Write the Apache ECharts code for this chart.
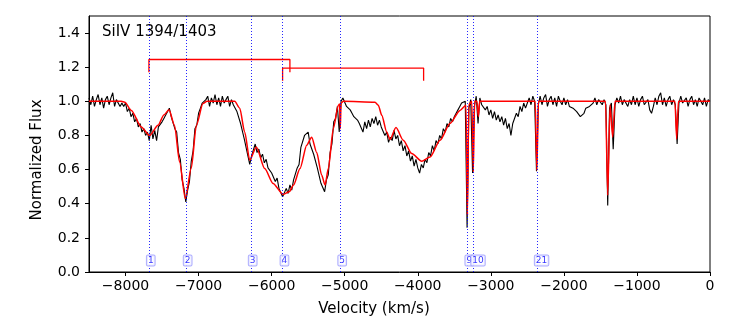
<!DOCTYPE html>
<html>
<head>
<meta charset="utf-8">
<script src="https://cdn.jsdelivr.net/npm/echarts@6/dist/echarts.min.js"></script>
<style>
  html, body { margin: 0; padding: 0; background: #fff; }
  #chart { width: 747px; height: 320px; }
</style>
</head>
<body>
<div id="chart"></div>
<script>
// observed spectrum, sampled every 25 km/s from -8500 to 0
var obsStart = -8500;
var obsStep = 25;
var obsFlux = [
  1.02, 0.98, 1.03, 0.97, 1.01, 1.04, 0.98, 1.02, 0.96, 1.01, 1.03, 0.98, 1.02, 1.05, 0.97, 1.01, 1.02, 0.97, 0.99, 0.97,
  0.99, 0.94, 0.96, 0.91, 0.93, 0.88, 0.90, 0.85, 0.87, 0.82, 0.84, 0.80, 0.82, 0.77, 0.86, 0.78, 0.83, 0.77, 0.85, 0.84,
  0.88, 0.90, 0.92, 0.93, 0.96, 0.91, 0.92, 0.84, 0.82, 0.70, 0.66, 0.54, 0.49, 0.41, 0.48, 0.53, 0.65, 0.71, 0.84, 0.86,
  0.93, 0.96, 0.99, 1.00, 1.01, 1.03, 0.97, 1.02, 0.99, 1.04, 0.98, 1.02, 0.97, 1.03, 0.99, 1.01, 1.03, 0.97, 1.01, 0.98,
  0.99, 0.94, 0.94, 0.87, 0.86, 0.78, 0.77, 0.68, 0.63, 0.68, 0.69, 0.75, 0.70, 0.72, 0.67, 0.69, 0.64, 0.66, 0.61, 0.62,
  0.58, 0.59, 0.53, 0.55, 0.49, 0.50, 0.44, 0.43, 0.49, 0.46, 0.51, 0.48, 0.54, 0.53, 0.61, 0.63, 0.73, 0.73, 0.80, 0.79,
  0.82, 0.75, 0.76, 0.69, 0.69, 0.61, 0.60, 0.52, 0.52, 0.47, 0.54, 0.57, 0.70, 0.75, 0.88, 0.90, 0.97, 0.82, 1.00, 1.02,
  1.01, 0.97, 0.97, 0.95, 0.93, 0.91, 0.90, 0.89, 0.87, 0.86, 0.82, 0.88, 0.84, 0.89, 0.85, 0.90, 0.87, 0.91, 0.86, 0.89,
  0.85, 0.86, 0.80, 0.82, 0.76, 0.79, 0.77, 0.83, 0.78, 0.80, 0.74, 0.77, 0.71, 0.74, 0.68, 0.71, 0.65, 0.68, 0.62, 0.66,
  0.61, 0.58, 0.63, 0.61, 0.66, 0.64, 0.70, 0.68, 0.74, 0.71, 0.77, 0.75, 0.80, 0.78, 0.84, 0.82, 0.87, 0.85, 0.90, 0.88,
  0.91, 0.93, 0.95, 0.97, 0.99, 0.99, 1.00, 0.26, 0.96, 1.01, 0.58, 0.97, 1.03, 0.87, 1.02, 0.98, 0.99, 0.95, 0.97, 0.92,
  0.95, 0.90, 0.94, 0.89, 0.92, 0.88, 0.91, 0.86, 0.90, 0.84, 0.87, 0.80, 0.87, 0.87, 0.93, 0.91, 0.97, 0.94, 0.99, 0.96,
  0.99, 1.02, 0.98, 1.03, 1.00, 0.59, 0.98, 1.03, 0.98, 1.02, 1.04, 0.97, 1.01, 1.03, 0.98, 1.02, 0.97, 1.03, 1.00, 0.98,
  1.02, 0.98, 1.01, 0.97, 0.98, 0.96, 0.96, 0.94, 0.95, 0.91, 0.92, 0.93, 0.96, 0.95, 0.97, 0.98, 0.99, 1.02, 0.98, 1.01,
  1.02, 0.98, 1.01, 0.98, 0.39, 0.96, 0.99, 0.72, 0.98, 1.02, 0.99, 1.03, 0.98, 1.01, 1.02, 0.97, 1.01, 0.98, 1.03, 0.98,
  1.02, 0.97, 1.01, 1.03, 0.98, 0.97, 1.01, 0.95, 0.93, 0.97, 1.02, 0.98, 1.03, 1.05, 0.98, 1.02, 0.97, 1.01, 1.03, 0.98,
  1.01, 0.98, 0.75, 0.99, 1.03, 0.99, 1.00, 1.02, 0.97, 1.01, 1.03, 0.98, 1.01, 0.97, 1.02, 1.00, 0.98, 1.02, 0.97, 1.01,
  1.00
];

// model fit (red)
var modelVel = [
  -8500, -8060, -8010, -7920, -7785, -7670, -7555, -7475, -7405, -7330,
  -7260, -7182, -7100, -7030, -6940, -6885, -6505, -6437, -6369, -6300,
  -6210, -6095, -5981, -5844, -5760, -5700, -5612, -5520, -5452, -5383,
  -5315, -5269, -5224, -5156, -5087, -5070, -5060, -5050, -5019, -4585,
  -4540, -4493, -4425, -4380, -4298, -4198, -4083, -3946, -3832, -3695,
  -3559, -3422, -3340, -3320, -3302, -3260, -3240, -3222, -3190, -3171,
  -3152, -2392, -2370, -2348, -1430, -1400, -1368, -1332, -1300, -480,
  -456, -432, 0
];
var modelFlux = [
  1.0, 1.0, 0.995, 0.947, 0.85, 0.80, 0.86, 0.92, 0.951, 0.86,
  0.645, 0.43, 0.61, 0.86, 0.987, 1.0, 1.0, 0.96, 0.82, 0.655,
  0.733, 0.606, 0.519, 0.455, 0.47, 0.51, 0.606, 0.743, 0.79, 0.70,
  0.567, 0.51, 0.606, 0.84, 0.977, 0.985, 0.84, 0.99, 1.0, 0.995,
  0.977, 0.918, 0.82, 0.776, 0.846, 0.772, 0.694, 0.649, 0.674, 0.772,
  0.87, 0.947, 0.977, 0.333, 0.98, 1.0, 0.587, 1.0, 1.0, 0.91,
  1.0, 1.0, 0.596, 1.0, 1.0, 0.45, 0.98, 0.79, 1.0, 1.0,
  0.78, 1.0, 1.0
];

// absorption components
var compVel = [-7680, -7175, -6285, -5850, -5060, -3320, -3240, -2370];
var compName = ['1', '2', '3', '4', '5', '9', '10', '21'];
var compLabelY = 0.067;

// doublet brackets
var bracketStart = [-7680, -5850];
var bracketEnd = [-5750, -3920];
var bracketTop = [1.245, 1.195];
var bracketFoot = [1.17, 1.12];

var xTicks = [-8000, -7000, -6000, -5000, -4000, -3000, -2000, -1000, 0];
var yTicks = [0, 0.2, 0.4, 0.6, 0.8, 1.0, 1.2, 1.4];

var FONT = 'DejaVu Sans';

var obsData = obsFlux.map(function (f, i) { return [obsStart + i * obsStep, f]; });
var modelData = modelVel.map(function (v, i) { return [v, modelFlux[i]]; });
var compData = compVel.map(function (v, i) { return [v, compLabelY, compName[i]]; });

var bracketSeries = bracketStart.map(function (s, i) {
  return {
    type: 'line',
    data: [[s, bracketFoot[i]], [s, bracketTop[i]], [bracketEnd[i], bracketTop[i]], [bracketEnd[i], bracketFoot[i]]],
    showSymbol: false,
    lineStyle: { color: '#ff0000', width: 1.3 },
    z: 4,
    silent: true
  };
});

var chart = echarts.init(document.getElementById('chart'), null, { renderer: 'canvas' });

var option = {
  animation: false,
  backgroundColor: '#ffffff',
  textStyle: { fontFamily: FONT },
  grid: {
    left: 89, right: 37, top: 16, bottom: 48,
    containLabel: false,
    outerBoundsMode: 'none',
    show: true,
    borderColor: '#000',
    borderWidth: 1,
    backgroundColor: 'transparent'
  },
  xAxis: {
    type: 'value',
    min: -8500,
    max: 0,
    axisLine: { show: true, onZero: false, lineStyle: { color: '#000', width: 1 } },
    axisTick: { show: true, length: 4, inside: false, customValues: xTicks, lineStyle: { color: '#000' } },
    axisLabel: {
      customValues: xTicks,
      color: '#000', fontSize: 14, fontFamily: FONT, margin: 7,
      formatter: function (v) { return v < 0 ? '\u2212' + Math.abs(v) : String(v); }
    },
    splitLine: { show: false }
  },
  yAxis: {
    type: 'value',
    min: 0,
    max: 1.5,
    axisLine: { show: true, onZero: false, lineStyle: { color: '#000', width: 1 } },
    axisTick: { show: true, length: 4, inside: false, customValues: yTicks, lineStyle: { color: '#000' } },
    axisLabel: {
      customValues: yTicks,
      color: '#000', fontSize: 14, fontFamily: FONT, margin: 9,
      formatter: function (v) { return v.toFixed(1); }
    },
    splitLine: { show: false }
  },
  graphic: [
    {
      type: 'text', left: 102, top: 25,
      style: { text: 'SiIV 1394/1403', fill: '#000', fontSize: 15, fontFamily: FONT }
    },
    {
      type: 'text', x: 374, y: 309,
      style: { text: 'Velocity (km/s)', fill: '#000', fontSize: 15, fontFamily: FONT, align: 'center', verticalAlign: 'middle' }
    },
    {
      type: 'text', x: 37, y: 160, rotation: Math.PI / 2,
      style: { text: 'Normalized Flux', fill: '#000', fontSize: 15, fontFamily: FONT, align: 'center', verticalAlign: 'middle' }
    }
  ],
  series: [
    {
      name: 'data',
      type: 'line',
      data: obsData,
      showSymbol: false,
      lineStyle: { color: '#000', width: 1.1 },
      z: 2,
      silent: true
    },
    {
      name: 'model',
      type: 'line',
      data: modelData,
      showSymbol: false,
      smooth: 0.25,
      smoothMonotone: 'x',
      lineStyle: { color: '#ff0000', width: 1.5 },
      z: 3,
      silent: true
    },
    {
      name: 'components',
      type: 'scatter',
      data: compData,
      symbolSize: 0,
      z: 6,
      silent: true,
      label: {
        show: true,
        position: [-2, 0],
        align: 'left',
        verticalAlign: 'middle',
        formatter: function (p) { return p.data[2]; },
        color: '#0000ff',
        fontSize: 9,
        fontFamily: FONT,
        backgroundColor: 'rgba(255,255,255,0.9)',
        borderColor: '#9a9aff',
        borderWidth: 1,
        borderRadius: 1,
        padding: [1, 1, 0, 1]
      },
      markLine: {
        silent: true,
        symbol: 'none',
        label: { show: false },
        lineStyle: { color: '#0000ff', type: [1, 2], width: 1, opacity: 0.85 },
        data: compVel.map(function (v) { return { xAxis: v }; })
      }
    }
  ].concat(bracketSeries)
};

chart.setOption(option);
</script>
</body>
</html>
